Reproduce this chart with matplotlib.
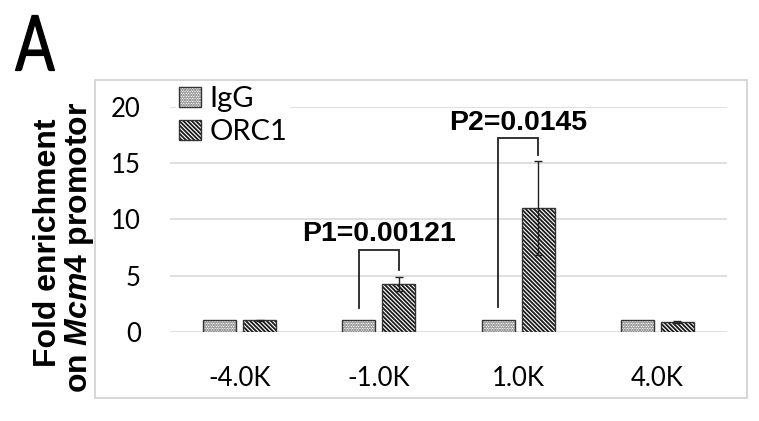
import numpy as np
import matplotlib
matplotlib.use("Agg")
import matplotlib.pyplot as plt
from matplotlib.patches import Rectangle, PathPatch
from matplotlib.textpath import TextPath
from matplotlib.font_manager import FontProperties
from matplotlib.transforms import Affine2D, IdentityTransform

# data
sites = ['-4.0K', '-1.0K', '1.0K', '4.0K']
igg = [1.0, 1.0, 1.0, 1.0]
orc1 = [1.0, 4.25, 11.0, 0.85]
orc1_err = [0.05, 0.6, 4.2, 0.12]
yticks = [0, 5, 10, 15, 20]

# significance brackets: (site index, left foot, top, right foot, label)
p_sites = [1, 2]
p_left = [2.1, 2.2]
p_top = [7.3, 17.2]
p_right = [5.45, 15.7]
p_labels = ['P1=0.00121', 'P2=0.0145']

plt.rcParams['mathtext.fontset'] = 'custom'
plt.rcParams['mathtext.it'] = 'Liberation Sans:italic:bold'
plt.rcParams['mathtext.rm'] = 'Liberation Sans:bold'
plt.rcParams['hatch.linewidth'] = 1.3

W, H = 759, 421
fig = plt.figure(figsize=(W / 100, H / 100), dpi=100)
ax = fig.add_axes([170 / W, (H - 331.7) / H, 557 / W, (331.7 - 107) / H])

x = np.arange(len(sites))
off = 0.144
bw = 0.237
dots = '..........'
lines = '\\' * 8
dot_col = '#9a9a9a'
line_col = '#1a1a1a'
edge_col = '#333333'

# hatch layer first (hatch colour = edgecolor), then outline on top
ax.bar(x - off, igg, bw, color='white', edgecolor=dot_col, hatch=dots, linewidth=0, zorder=2)
ax.bar(x + off, orc1, bw, color='white', edgecolor=line_col, hatch=lines, linewidth=0, zorder=2)
ax.bar(x - off, igg, bw, color='none', edgecolor=edge_col, linewidth=1.0, zorder=3)
ax.bar(x + off, orc1, bw, color='none', edgecolor=edge_col, linewidth=1.0, zorder=3)
ax.errorbar(x + off, orc1, yerr=orc1_err, fmt='none', ecolor='#222222',
            elinewidth=1.0, capsize=3, capthick=1.0, zorder=4)

# legend proxies with the same look
h1 = (Rectangle((0, 0), 1, 1, facecolor='white', edgecolor=dot_col, hatch=dots, linewidth=0),
      Rectangle((0, 0), 1, 1, facecolor='none', edgecolor=edge_col, linewidth=1.0))
h2 = (Rectangle((0, 0), 1, 1, facecolor='white', edgecolor=line_col, hatch=lines, linewidth=0),
      Rectangle((0, 0), 1, 1, facecolor='none', edgecolor=edge_col, linewidth=1.0))
leg = ax.legend([h1, h2], ['IgG', 'ORC1'], loc='upper left',
                bbox_to_anchor=(176 / W, 1 - 83 / H), bbox_transform=fig.transFigure,
                prop={'family': 'Lato', 'size': 21}, frameon=True, fancybox=False,
                framealpha=1, edgecolor='none', facecolor='white',
                handlelength=0.75, handleheight=0.68, handletextpad=0.3,
                labelspacing=0.26, borderpad=0.1, borderaxespad=0)
leg.set_zorder(5)

for i, s in enumerate(p_sites):
    xl = s - off
    xr = s + off
    ax.plot([xl, xl, xr, xr], [p_left[i], p_top[i], p_top[i], p_right[i]],
            color='#222222', lw=1.3, zorder=4, solid_joinstyle='miter')
    ax.text(s, p_top[i] + 0.75, p_labels[i], ha='center', va='baseline',
            family='Liberation Sans', weight='bold', fontsize=20.5, zorder=5)

ax.set_xlim(-0.5, 3.5)
ax.set_ylim(0, 20)
ax.set_yticks(yticks)
ax.set_xticks(x)
ax.set_xticklabels(sites)
ax.yaxis.grid(True, color='#d9d9d9', linewidth=1.2, zorder=0)
ax.set_axisbelow(True)
for sp in ax.spines.values():
    sp.set_visible(False)
ax.tick_params(length=0)
ax.tick_params(axis='y', pad=21, labelsize=18.5)
ax.tick_params(axis='x', pad=25, labelsize=18.5)
for t in ax.get_xticklabels() + ax.get_yticklabels():
    t.set_family('Lato')

# two-line y label, bold Arial-like with italic gene name
fig.text(48.5 / W, 1 - 242.5 / H, 'Fold enrichment', rotation=90, ha='center', va='center',
         family='Liberation Sans', weight='bold', fontsize=23)
fig.text(80 / W, 1 - 247.5 / H, r'on $\mathit{Mcm4}$ promotor', rotation=90, ha='center',
         va='center', family='Liberation Sans', weight='bold', fontsize=23)

# panel letter, squeezed into the box it takes in the original (pixels)
tp = TextPath((0, 0), 'A', size=100, prop=FontProperties(family='Lato'))
ext = tp.get_extents()
x0, x1, y0, y1 = 15.5, 54.5, H - 70.5, H - 15.5
tr = (Affine2D().translate(-ext.x0, -ext.y0)
      .scale((x1 - x0) / ext.width, (y1 - y0) / ext.height)
      .translate(x0, y0))
fig.add_artist(PathPatch(tr.transform_path(tp), transform=IdentityTransform(),
                         facecolor='black', edgecolor='black', linewidth=0.9))

# chart area frame
fig.add_artist(Rectangle((95 / W, 1 - 398 / H), (747 - 95) / W, (398 - 80) / H,
                         transform=fig.transFigure, fill=False, edgecolor='#d0d0d0', lw=1.2))

fig.savefig('out.png', dpi=100)
